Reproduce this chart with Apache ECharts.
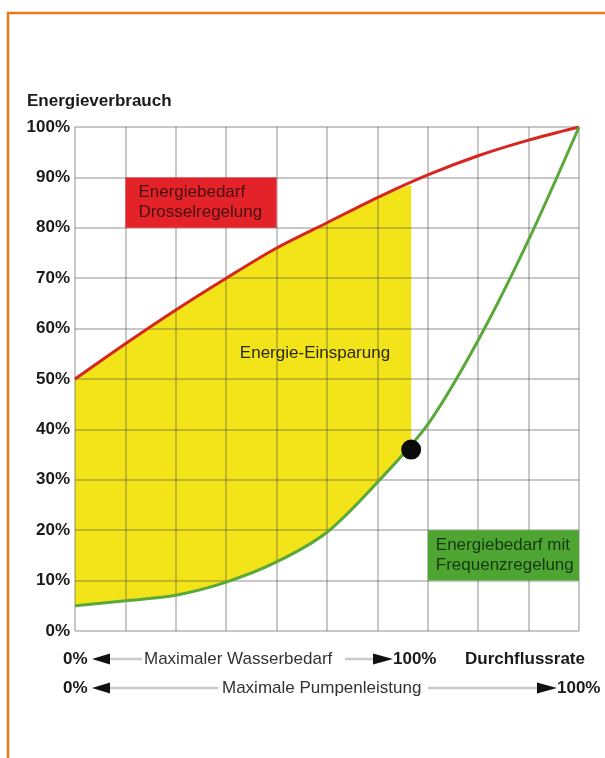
<!DOCTYPE html>
<html><head><meta charset="utf-8">
<script src="https://cdn.jsdelivr.net/npm/echarts@6/dist/echarts.min.js"></script>
<style>html,body{margin:0;padding:0;background:#fff}#c{width:605px;height:758px}</style>
</head><body><div id="c"></div>
<script>
// ---- data ----
const flowPoints      = [0, 10, 20, 30, 40, 50, 60, 70, 80, 90, 100];          // Durchflussrate (%)
const drosselValues   = [50, 57, 63.7, 70, 76, 81, 86, 90.5, 94.3, 97.4, 100];  // Energiebedarf Drosselregelung (%)
const frequenzValues  = [5, 6, 7.1, 9.7, 13.7, 19.6, 29.5, 41, 57.7, 77.6, 100]; // Energiebedarf Frequenzregelung (%)
const savingEnd       = [66.7, 88.5];     // x where the Energie-Einsparung area ends, red value there
const operatingPoint  = [66.7, 36];       // black dot
const yTickLabels     = ['0%','10%','20%','30%','40%','50%','60%','70%','80%','90%','100%'];
const redBoxCoords    = [[10, 90], [40, 80]];
const greenBoxCoords  = [[70, 20], [100, 10]];
const redBoxText      = 'Energiebedarf\nDrosselregelung';
const greenBoxText    = 'Energiebedarf mit\nFrequenzregelung';
const savingText      = 'Energie-Einsparung';
const yAxisTitle      = 'Energieverbrauch';
const xAxisTitle      = 'Durchflussrate';
const row1Text        = 'Maximaler Wasserbedarf';
const row2Text        = 'Maximale Pumpenleistung';

// ---- build series data ----
const redLine = flowPoints.map((x, i) => [x, drosselValues[i]]);
const greenLine = flowPoints.map((x, i) => [x, frequenzValues[i]]);
const savIdx = flowPoints.map((x, i) => i).filter(i => flowPoints[i] < savingEnd[0]);
const savTop = savIdx.map(i => [flowPoints[i], drosselValues[i]]).concat([[savingEnd[0], savingEnd[1]]]);

const FONT = 'Liberation Sans, Arial, Helvetica, sans-serif';
const SM = 0.3;
const chart = echarts.init(document.getElementById('c'), null, {renderer: 'canvas'});

const gridLine = {show: true, lineStyle: {color: 'rgba(70,70,70,0.4)', width: 1.5}};

function arrowLeft(x, y) { return {type: 'polygon', shape: {points: [[x, y], [x + 18, y - 5.5], [x + 18, y + 5.5]]}, style: {fill: '#111'}}; }
function arrowRight(x, y) { return {type: 'polygon', shape: {points: [[x, y - 5.5], [x, y + 5.5], [x + 20, y]]}, style: {fill: '#111'}}; }
function hline(x1, x2, y) { return {type: 'line', shape: {x1: x1, y1: y, x2: x2, y2: y}, style: {stroke: '#c9c9c9', lineWidth: 2.5}}; }
function txt(x, y, t, bold, align) {
  return {type: 'text', x: x, y: y, style: {text: t, font: (bold ? 'bold ' : '') + '17px ' + FONT, fill: bold ? '#1a1a1a' : '#333', textAlign: align || 'left', textVerticalAlign: 'middle'}};
}

const y1 = 659, y2 = 688;

chart.setOption({
  animation: false,
  backgroundColor: '#fff',
  grid: {left: 75, right: 26, top: 127, bottom: 127},
  title: {text: yAxisTitle, left: 22, top: 88, textStyle: {fontFamily: FONT, fontSize: 17, fontWeight: 'bold', color: '#1a1a1a'}},
  xAxis: {
    type: 'value', min: 0, max: 100, interval: 10, z: 2,
    axisLine: {show: false}, axisTick: {show: false}, axisLabel: {show: false},
    splitLine: gridLine
  },
  yAxis: {
    type: 'value', min: 0, max: 100, interval: 10, z: 2,
    axisLine: {show: false}, axisTick: {show: false},
    axisLabel: {margin: 5, fontFamily: FONT, fontSize: 17, fontWeight: 'bold', color: '#1a1a1a',
      formatter: v => yTickLabels[Math.round(v / 10)]},
    splitLine: gridLine
  },
  series: [
    {name: 'Energie-Einsparung', type: 'line', data: savTop, smooth: SM, symbol: 'none',
     lineStyle: {width: 0, opacity: 0}, areaStyle: {color: '#f2e418', opacity: 1}, z: 1, silent: true},
    {name: 'unter Frequenzregelung', type: 'line', data: greenLine, smooth: SM, symbol: 'none',
     lineStyle: {width: 0, opacity: 0}, areaStyle: {color: '#ffffff', opacity: 1}, z: 1, silent: true},
    {name: 'Drosselregelung', type: 'line', data: redLine, smooth: SM, symbol: 'none',
     lineStyle: {color: '#d6261f', width: 3}, z: 3,
     markArea: {z: 4, silent: true,
       itemStyle: {color: '#e4222a', opacity: 1},
       label: {show: true, position: 'insideLeft', distance: 13, formatter: redBoxText, color: '#4a0f0f',
         fontFamily: FONT, fontSize: 17, lineHeight: 20, align: 'left'},
       data: [[{coord: redBoxCoords[0]}, {coord: redBoxCoords[1]}]]}},
    {name: 'Frequenzregelung', type: 'line', data: greenLine, smooth: SM, symbol: 'none',
     lineStyle: {color: '#5aa83a', width: 3}, z: 3,
     markArea: {z: 4, silent: true,
       itemStyle: {color: '#4fa531', opacity: 1},
       label: {show: true, position: 'insideLeft', distance: 8, formatter: greenBoxText, color: '#163a10',
         fontFamily: FONT, fontSize: 17, lineHeight: 20, align: 'left'},
       data: [[{coord: greenBoxCoords[0]}, {coord: greenBoxCoords[1]}]]}},
    {name: 'Betriebspunkt', type: 'scatter', data: [operatingPoint], symbolSize: 20,
     itemStyle: {color: '#0a0a0a', opacity: 1}, z: 5, silent: true}
  ],
  graphic: [
    {type: 'rect', shape: {x: 8, y: 13, width: 800, height: 900}, style: {fill: 'none', stroke: '#ec7a1c', lineWidth: 2.5}, z: 10},
    {type: 'text', x: 315, y: 353, z: 10, style: {text: savingText, font: '17px ' + FONT, fill: '#2a2a10', textAlign: 'center', textVerticalAlign: 'middle'}},
    txt(63, y1, '0%', true), arrowLeft(92, y1), hline(110, 142, y1), txt(144, y1, row1Text, false),
    hline(345, 373, y1), arrowRight(373, y1), txt(393, y1, '100%', true), txt(465, y1, xAxisTitle, true),
    txt(63, y2, '0%', true), arrowLeft(92, y2), hline(110, 218, y2), txt(222, y2, row2Text, false),
    hline(428, 537, y2), arrowRight(537, y2), txt(557, y2, '100%', true)
  ]
});
</script></body></html>
